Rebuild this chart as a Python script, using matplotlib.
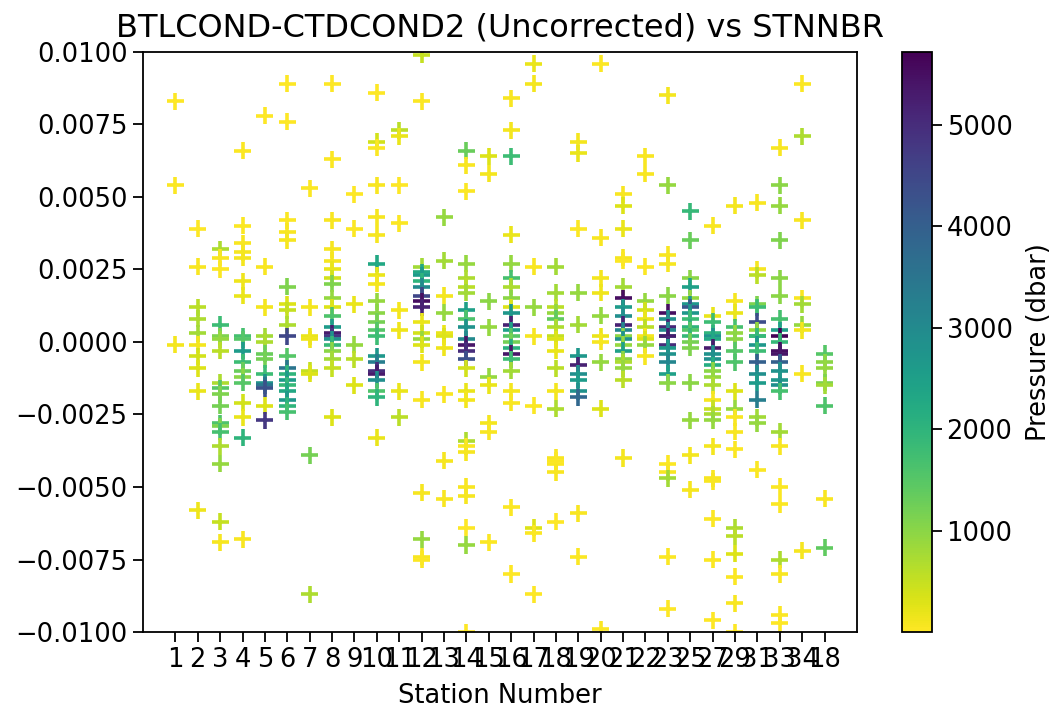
import numpy as np
import matplotlib
matplotlib.use("Agg")
import matplotlib.pyplot as plt
from matplotlib.ticker import MultipleLocator

# station labels, in the order they appear on the axis
stations = ["1", "2", "3", "4", "5", "6", "7", "8", "9", "10", "11", "12", "13", "14", "15",
            "16", "17", "18", "19", "20", "21", "22", "23", "25", "27", "29", "31", "33", "34", "18"]

# BTLCOND - CTDCOND2, in units of 1e-3 (one list per station)
cond_diff = [
    [8.3, 5.4, -0.1],
    [3.9, 2.6, 1.2, 0.8, 0.3, -0.1, -0.5, -0.9, -1.7, -5.8],
    [3.2, 2.9, 2.5, 0.6, 0.2, 0.1, -0.3, -1.4, -1.6, -1.8, -2.2, -2.8, -2.9, -3.1, -3.6, -4.2, -6.2, -6.9],
    [6.6, 4.0, 3.4, 3.1, 2.9, 2.1, 1.6, 0.2, 0.1, -0.3, -0.7, -1.0, -1.2, -1.4, -2.1, -2.6, -3.3, -6.8],
    [7.8, 2.6, 1.2, 0.2, 0.0, -0.4, -0.6, -1.1, -1.4, -1.5, -1.6, -2.2, -2.7],
    [8.9, 7.6, 4.2, 3.8, 3.5, 1.9, 1.3, 1.1, 0.6, 0.2, -0.5, -0.9, -1.1, -1.3, -1.5, -1.7, -2.0, -2.2, -2.4],
    [5.3, 1.2, 0.2, 0.1, -1.0, -1.1, -3.9, -8.7],
    [8.9, 6.3, 4.2, 3.2, 2.8, 2.5, 2.2, 2.0, 1.5, 1.2, 0.9, 0.5, 0.3, 0.2, 0.1, -0.1, -0.3, -0.6, -0.9, -2.6],
    [5.1, 3.9, 1.3, -0.1, -0.6, -1.5],
    [8.6, 6.9, 6.7, 5.4, 4.3, 3.7, 2.7, 2.3, 2.0, 1.4, 1.0, 0.7, 0.4, 0.2, -0.5, -0.7, -1.0, -1.1, -1.3, -1.7, -1.9, -3.3],
    [7.3, 7.1, 5.4, 4.1, 1.1, 0.4, -1.7, -2.6],
    [9.9, 8.3, 2.6, 2.4, 2.3, 2.1, 1.9, 1.6, 1.4, 1.2, 0.7, 0.3, 0.1, -0.1, -0.7, -2.0, -5.2, -6.8, -7.4, -7.5],
    [4.3, 2.8, 1.6, 1.0, 0.3, 0.2, -0.2, -1.8, -4.1, -5.4],
    [6.6, 6.1, 5.2, 2.7, 2.2, 1.9, 1.7, 1.1, 0.8, 0.5, 0.1, -0.1, -0.3, -0.6, -0.9, -1.7, -2.0, -3.4, -3.6, -3.8,
     -5.0, -5.3, -6.4, -7.0, -10.0],
    [6.4, 5.8, 1.4, 0.5, -1.2, -1.5, -2.8, -3.1, -6.9],
    [8.4, 7.3, 6.4, 3.7, 2.7, 2.2, 1.9, 1.5, 1.2, 1.0, 0.6, 0.4, 0.2, 0.0, -0.2, -0.4, -0.6, -1.0, -1.7, -2.1, -5.7, -8.0],
    [9.6, 8.9, 2.6, 1.2, 0.2, -2.2, -6.4, -6.6, -8.7],
    [2.6, 1.7, 1.2, 1.0, 0.8, 0.5, 0.2, 0.1, -0.3, -0.9, -1.7, -2.3, -4.0, -4.1, -4.2, -4.5, -6.2],
    [6.9, 6.5, 3.9, 1.7, 0.6, -0.5, -0.8, -1.1, -1.3, -1.7, -1.9, -5.9, -7.4],
    [9.6, 3.6, 2.2, 1.7, 0.9, 0.2, 0.0, -0.7, -2.3, -9.9],
    [5.1, 4.7, 3.9, 2.9, 2.8, 1.9, 1.5, 1.2, 0.9, 0.6, 0.4, 0.2, 0.1, -0.1, -0.3, -0.6, -0.7, -0.9, -1.3, -4.0],
    [6.4, 5.8, 2.6, 1.4, 1.1, 0.8, 0.5, 0.2, 0.1, -0.1, -0.5],
    [8.5, 5.4, 3.0, 2.7, 1.6, 1.0, 0.8, 0.5, 0.2, 0.4, 0.2, -0.1, -0.2, -0.4, -0.7, -1.1, -1.4, -4.2, -4.5, -4.7, -7.4, -9.2],
    [4.5, 3.5, 2.2, 1.9, 1.5, 1.3, 1.2, 1.0, 0.8, 0.5, 0.4, 0.2, 0.0, -0.2, -1.4, -2.7, -3.9, -5.1],
    [4.0, 0.9, 0.7, 0.3, 0.2, 0.1, -0.2, -0.4, -0.6, -0.8, -1.0, -1.2, -1.5, -2.0, -2.3, -2.5, -2.7, -3.6, -4.7, -4.8,
     -6.1, -7.5, -9.6],
    [4.7, 1.4, 1.0, 0.5, 0.3, 0.1, -0.3, -0.7, -1.7, -2.3, -2.6, -3.1, -3.7, -6.4, -6.7, -7.3, -8.1, -9.0, -10.0],
    [4.8, 2.5, 2.3, 1.3, 1.2, 0.7, 0.4, 0.2, 0.2, -0.1, -0.3, -0.7, -1.1, -1.4, -2.0, -2.6, -2.8, -4.4],
    [6.7, 5.4, 4.7, 3.5, 2.2, 1.6, 0.8, 0.4, 0.2, 0.0, -0.3, -0.4, -0.7, -1.0, -1.3, -1.5, -1.7, -3.1, -3.6, -5.0,
     -5.6, -7.5, -8.0, -9.4, -9.7],
    [8.9, 7.1, 4.2, 1.5, 1.3, 0.6, 0.4, -1.1, -7.2],
    [-0.4, -0.7, -0.9, -1.4, -1.5, -2.2, -5.4, -7.1],
]

# CTD pressure (dbar) for each bottle above
pressure = [
    [10, 30, 100],
    [20, 50, 600, 700, 800, 100, 400, 300, 200, 150],
    [700, 60, 40, 1800, 1100, 900, 600, 700, 1500, 1100, 1200, 1600, 1100, 1700, 700, 900, 500, 80],
    [30, 40, 60, 80, 100, 150, 200, 1700, 1500, 2600, 1800, 1300, 1000, 1500, 400, 200, 2000, 50],
    [20, 50, 100, 800, 700, 1300, 1200, 1800, 2800, 3500, 4300, 300, 4800],
    [10, 20, 40, 60, 80, 1100, 300, 500, 700, 4500, 1500, 3500, 2000, 2600, 1900, 2300, 2700, 2000, 1700],
    [30, 100, 200, 150, 500, 300, 1200, 700],
    [10, 30, 50, 70, 90, 200, 400, 1100, 900, 300, 1600, 2600, 5300, 4800, 2800, 1900, 1000, 800, 500, 300],
    [20, 40, 200, 900, 600, 300],
    [10, 400, 40, 50, 70, 90, 2300, 200, 100, 900, 1000, 1200, 1500, 1800, 2700, 3300, 5000, 5300, 2900, 1600, 2000, 200],
    [600, 200, 20, 40, 100, 150, 200, 600],
    [500, 30, 800, 2300, 2600, 2000, 3000, 4500, 5500, 5200, 200, 400, 900, 300, 100, 50, 80, 900, 60, 40],
    [900, 800, 100, 900, 200, 300, 150, 50, 80, 60],
    [1300, 50, 30, 900, 700, 600, 800, 2500, 1600, 2800, 3000, 5400, 5000, 4300, 400, 200, 100, 700, 40, 80,
     60, 70, 20, 900, 10],
    [300, 100, 1000, 900, 900, 200, 100, 50, 30],
    [50, 100, 1800, 200, 900, 1700, 700, 1000, 300, 2700, 5200, 2500, 1500, 1200, 2100, 5400, 1800, 800, 100, 60, 40, 20],
    [200, 100, 50, 900, 80, 40, 300, 30, 20],
    [800, 800, 600, 900, 1400, 700, 500, 300, 200, 600, 100, 700, 50, 40, 30, 60, 20],
    [100, 200, 30, 900, 800, 2700, 5200, 2900, 2600, 2800, 3800, 50, 40],
    [30, 50, 100, 150, 900, 200, 80, 900, 300, 40],
    [50, 300, 200, 70, 40, 800, 5500, 2600, 2900, 5200, 3100, 1000, 2800, 900, 2500, 1000, 700, 900, 600, 100],
    [60, 50, 40, 900, 400, 200, 600, 100, 300, 900, 80],
    [100, 900, 50, 80, 1000, 5500, 2900, 5100, 2700, 3000, 5300, 5000, 2600, 2800, 3100, 2500, 1000, 40, 60, 800, 30, 20],
    [1900, 1300, 1000, 2500, 900, 2700, 4200, 2700, 1800, 2000, 1500, 1900, 1200, 1100, 1000, 900, 100, 80],
    [50, 200, 1800, 2000, 2800, 2300, 5300, 2800, 2900, 2200, 1000, 900, 700, 80, 500, 700, 900, 100, 60, 50,
     40, 30, 20],
    [100, 80, 200, 1700, 900, 1000, 1500, 1600, 300, 900, 60, 50, 40, 700, 600, 300, 30, 50, 20],
    [60, 80, 600, 1100, 1800, 4400, 900, 1700, 1900, 2700, 1800, 4000, 2900, 2600, 3300, 800, 900, 40],
    [60, 1000, 900, 1100, 1000, 1000, 1700, 2500, 5720, 1900, 5500, 5400, 4000, 2800, 2700, 2900, 1700, 800, 50, 40,
     30, 700, 50, 40, 20],
    [40, 700, 50, 60, 800, 900, 100, 50, 80],
    [1500, 1000, 900, 1100, 800, 1600, 50, 1400],
]

xs, ys, cs = [], [], []
for i, (vals, pr) in enumerate(zip(cond_diff, pressure)):
    xs += [i] * len(vals)
    ys += [v * 1e-3 for v in vals]
    cs += pr

fig = plt.figure(figsize=(10.55, 7.11), dpi=100)
ax = fig.add_axes([0.1355, 0.1111, 0.6768, 0.8158])
cax = fig.add_axes([0.855, 0.1111, 0.0284, 0.8158])

sc = ax.scatter(xs, ys, c=cs, cmap="viridis_r", vmin=3, vmax=5720,
                marker="+", s=150, linewidths=2.6)

ax.set_ylim(-0.01, 0.01)
ax.yaxis.set_major_locator(MultipleLocator(0.0025))
ax.set_xticks(np.arange(len(stations)))
ax.set_xticklabels(stations)
ax.tick_params(labelsize=18.5, length=7, width=1.3, pad=4)
for s in ax.spines.values():
    s.set_linewidth(1.3)
ax.set_xlabel("Station Number", fontsize=18.5, labelpad=7)
ax.set_title("BTLCOND-CTDCOND2 (Uncorrected) vs STNNBR", fontsize=23, pad=11)

cb = fig.colorbar(sc, cax=cax)
cb.set_label("Pressure (dbar)", fontsize=18.5, labelpad=10)
cb.ax.tick_params(labelsize=18.5, length=7, width=1.3)
cb.outline.set_linewidth(1.3)

fig.savefig("out.png", dpi=100)
